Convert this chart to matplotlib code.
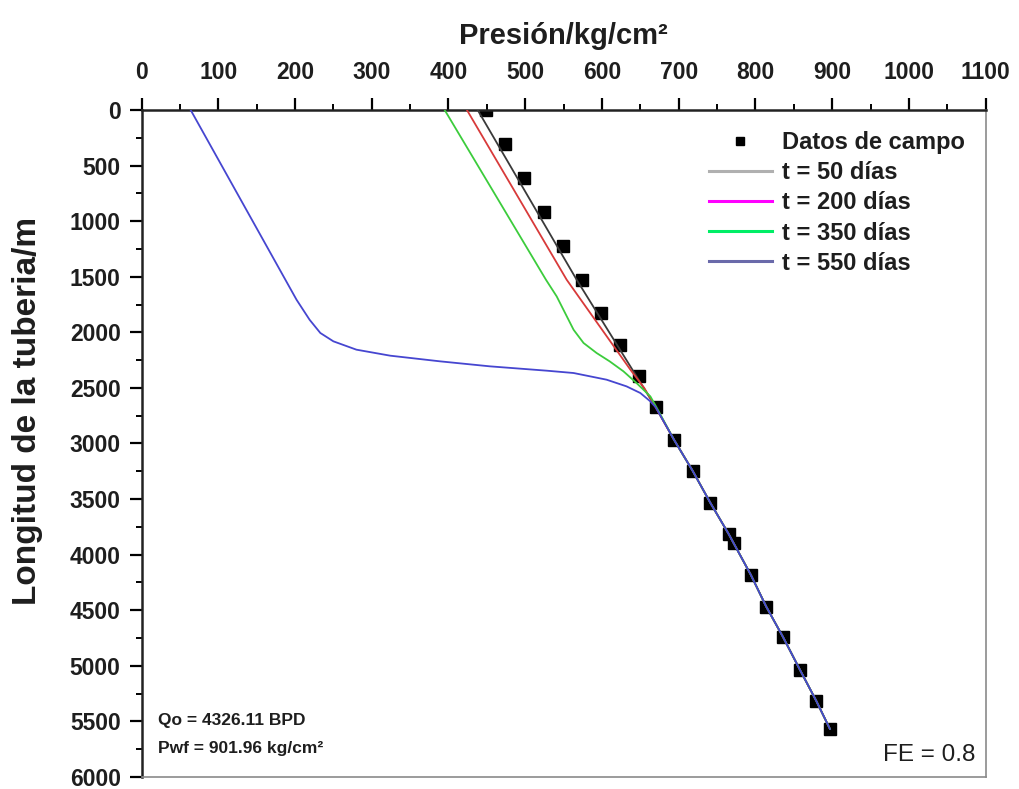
import matplotlib
matplotlib.use("Agg")
import matplotlib.pyplot as plt
from matplotlib.lines import Line2D
from matplotlib.ticker import MultipleLocator

plt.rcParams['font.family'] = ['Liberation Sans', 'DejaVu Sans']

# field measurements (pressure kg/cm2, pipe length m)
campo_p = [449, 473, 498, 524, 549, 574, 599, 624, 648, 671, 694, 718, 741, 765, 772,
           794, 814, 836, 858, 879, 897]
campo_l = [0, 309, 615, 921, 1224, 1530, 1823, 2114, 2393, 2674, 2968, 3244, 3531, 3813,
           3897, 4182, 4467, 4742, 5036, 5312, 5567]

# common lower section of all simulated profiles
tail_p = [694, 718, 741, 765, 794, 814, 836, 858, 879, 897]
tail_l = [2968, 3244, 3531, 3813, 4182, 4467, 4742, 5036, 5312, 5567]

t50_p = [438, 567, 670] + tail_p
t50_l = [0, 1527, 2674] + tail_l

t200_p = [424, 554, 637, 655, 670] + tail_p
t200_l = [0, 1527, 2336, 2500, 2674] + tail_l

t350_p = [395, 527, 541, 552, 563, 576, 593, 610, 628, 645, 663, 671] + tail_p
t350_l = [0, 1527, 1677, 1827, 1977, 2096, 2186, 2261, 2351, 2456, 2576, 2674] + tail_l

t550_p = [64, 202, 219, 233, 250, 280, 324, 389, 454, 528, 563, 606, 632, 650, 663, 670] + tail_p
t550_l = [0, 1707, 1887, 2006, 2081, 2156, 2210, 2261, 2306, 2345, 2366, 2426, 2486, 2546,
          2621, 2674] + tail_l

labels = ["Datos de campo", "t = 50 días", "t = 200 días", "t = 350 días", "t = 550 días"]
line_colors = ["#3a3a3a", "#d83a3a", "#3ccc3c", "#4646d0"]
legend_colors = ["#b0b0b0", "#ff00ff", "#00ee66", "#6a6aaa"]

fig = plt.figure(figsize=(10.19, 7.89), dpi=100)
ax = fig.add_axes([0.1389, 0.0152, 0.8284, 0.8454])

ax.plot(campo_p, campo_l, ls="none", marker="s", ms=8, color="black", zorder=2)
curves = [(t50_p, t50_l), (t200_p, t200_l), (t350_p, t350_l), (t550_p, t550_l)]
for (p, l), c in zip(curves, line_colors):
    ax.plot(p, l, color=c, lw=1.3, zorder=3, solid_joinstyle="round")

ax.set_xlim(0, 1100)
ax.set_ylim(6000, 0)
ax.xaxis.tick_top()
ax.xaxis.set_label_position('top')
ax.xaxis.set_major_locator(MultipleLocator(100))
ax.xaxis.set_minor_locator(MultipleLocator(50))
ax.yaxis.set_major_locator(MultipleLocator(500))
ax.yaxis.set_minor_locator(MultipleLocator(250))
ax.tick_params(which="major", direction="out", length=9, width=1.6, labelsize=16.5)
ax.tick_params(axis="x", which="major", pad=10)
ax.tick_params(axis="y", which="major", pad=6)
ax.tick_params(which="minor", direction="out", length=4.5, width=1.4)
for lab in ax.get_xticklabels() + ax.get_yticklabels():
    lab.set_fontweight("bold")
    lab.set_color("#1e1e1e")

for s in ["top", "left"]:
    ax.spines[s].set_linewidth(1.8)
    ax.spines[s].set_color("#222222")
for s in ["right", "bottom"]:
    ax.spines[s].set_linewidth(1.2)
    ax.spines[s].set_color("#8a8a8a")

ax.set_xlabel("Presión/kg/cm²", fontsize=21, fontweight="bold", labelpad=12, color="#1e1e1e")
ax.set_ylabel("Longitud de la tuberia/m", fontsize=24, fontweight="bold", color="#1e1e1e")
ax.yaxis.set_label_coords(-0.117, 0.549)

handles = [Line2D([], [], ls="none", marker="s", ms=6, color="black")]
handles += [Line2D([], [], color=c, lw=2.2) for c in legend_colors]
leg = ax.legend(handles, labels, loc="upper right", bbox_to_anchor=(0.975, 0.968),
                frameon=False, handlelength=2.67, handletextpad=0.42,
                labelspacing=0.3, borderpad=0, borderaxespad=0,
                prop={"size": 17, "weight": "bold"})
for t in leg.get_texts():
    t.set_color("#1e1e1e")

ax.text(0.0195, 0.0853, "Qo = 4326.11 BPD", transform=ax.transAxes, fontsize=12.5,
        fontweight="bold", va="center", ha="left", color="#1e1e1e")
ax.text(0.0195, 0.042, "Pwf = 901.96 kg/cm²", transform=ax.transAxes, fontsize=12.5,
        fontweight="bold", va="center", ha="left", color="#1e1e1e")
ax.text(0.9873, 0.033, "FE = 0.8", transform=ax.transAxes, fontsize=17.5,
        va="center", ha="right", color="#1e1e1e")

fig.savefig("out.png", dpi=100)
